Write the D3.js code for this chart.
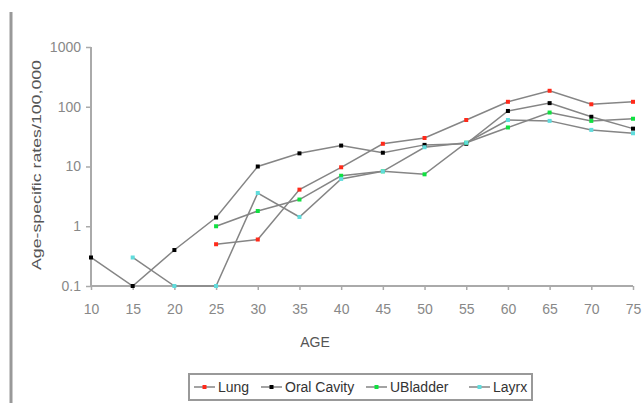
<!DOCTYPE html>
<html>
<head>
<meta charset="utf-8">
<script src="https://d3js.org/d3.v7.min.js"></script>
<style>
  body { margin: 0; background: #fff; }
  svg { font-family: "Liberation Sans", Arial, sans-serif; }
</style>
</head>
<body>
<div id="chart"></div>
<script>
// ages on the x axis
var ages = [10, 15, 20, 25, 30, 35, 40, 45, 50, 55, 60, 65, 70, 75];
// rates per 100,000 (null = no point)
var lung     = [null, null, null, 0.5, 0.6, 4.1, 9.7, 24, 30, 60, 121, 185, 110, 121];
var oral     = [0.3, 0.1, 0.4, 1.4, 10, 16.6, 22.4, 17, 23, 24, 85, 115, 68, 43];
var ubladder = [null, null, null, 1.0, 1.8, 2.8, 7, 8.3, 7.4, 25, 45, 80, 58, 63];
var larynx   = [null, 0.3, 0.1, 0.1, 3.6, 1.43, 6.2, 8.3, 21, 25, 60, 58, 41, 36];
var yTicks = [0.1, 1, 10, 100, 1000];
var seriesNames = ["Lung", "Oral Cavity", "UBladder", "Layrx"];
var seriesColors = ["#ff2a1a", "#000000", "#10e040", "#60dcdc"];

var width = 642, height = 403;

var svg = d3.select("#chart").append("svg")
    .attr("width", width)
    .attr("height", height);

// left border line
svg.append("line")
    .attr("x1", 11).attr("x2", 11)
    .attr("y1", 12).attr("y2", height)
    .attr("stroke", "#999").attr("stroke-width", 3);

var x = d3.scaleLinear().domain([10, 75]).range([91, 633]);
var y = d3.scaleLog().domain([0.1, 1000]).range([286, 47]);

// y axis
var yAxis = svg.append("g")
    .attr("transform", "translate(91,0)")
    .call(d3.axisLeft(y).tickValues(yTicks).tickSize(5).tickPadding(5)
        .tickFormat(function(d) { return String(d); }));

// x axis
var xAxis = svg.append("g")
    .attr("transform", "translate(0,286)")
    .call(d3.axisBottom(x).tickValues(ages).tickSize(4).tickPadding(14)
        .tickFormat(d3.format("d")));

[yAxis, xAxis].forEach(function(a) {
    a.select(".domain").attr("stroke", "#aaa").attr("stroke-width", 2);
    a.selectAll(".tick line").attr("stroke", "#aaa").attr("stroke-width", 1.5);
    a.selectAll(".tick text").attr("fill", "#888").style("font-size", "14px");
});
xAxis.select(".domain").attr("d", "M91,0H633");
yAxis.select(".domain").attr("d", "M0,47V286");

// axis titles
svg.append("text")
    .attr("x", 315).attr("y", 347)
    .attr("text-anchor", "middle")
    .attr("fill", "#555")
    .style("font-size", "14px")
    .text("AGE");

svg.append("text")
    .attr("transform", "translate(41,165) rotate(-90)")
    .attr("text-anchor", "middle")
    .attr("fill", "#555")
    .style("font-size", "13px")
    .attr("textLength", 210)
    .attr("lengthAdjust", "spacingAndGlyphs")
    .text("Age-specific rates/100,000");

// lines and markers
var allSeries = [lung, oral, ubladder, larynx];
var line = d3.line()
    .defined(function(d) { return d != null; })
    .x(function(d, i) { return x(ages[i]); })
    .y(function(d) { return y(d); });

allSeries.forEach(function(vals, s) {
    svg.append("path")
        .datum(vals)
        .attr("fill", "none")
        .attr("stroke", "#858585")
        .attr("stroke-width", 1.5)
        .attr("d", line);
});

allSeries.forEach(function(vals, s) {
    var pts = vals.map(function(v, i) { return { age: ages[i], v: v }; })
        .filter(function(p) { return p.v != null; });
    svg.append("g").selectAll("rect")
        .data(pts)
        .enter().append("rect")
        .attr("x", function(p) { return x(p.age) - 2; })
        .attr("y", function(p) { return y(p.v) - 2; })
        .attr("width", 4).attr("height", 4)
        .attr("fill", seriesColors[s]);
});

// legend
var legend = svg.append("g");
legend.append("rect")
    .attr("x", 189).attr("y", 374)
    .attr("width", 343).attr("height", 26)
    .attr("fill", "#fff")
    .attr("stroke", "#999").attr("stroke-width", 2);

var legX = [194, 261, 366, 469];
seriesNames.forEach(function(name, i) {
    var g = legend.append("g").attr("transform", "translate(" + legX[i] + ",387)");
    g.append("line").attr("x1", 0).attr("x2", 21)
        .attr("stroke", "#858585").attr("stroke-width", 1.5);
    g.append("rect").attr("x", 8.5).attr("y", -2).attr("width", 4).attr("height", 4)
        .attr("fill", seriesColors[i]);
    g.append("text").attr("x", 24).attr("y", 5)
        .attr("fill", "#333")
        .style("font-size", "14px")
        .text(name);
});
</script>
</body>
</html>
